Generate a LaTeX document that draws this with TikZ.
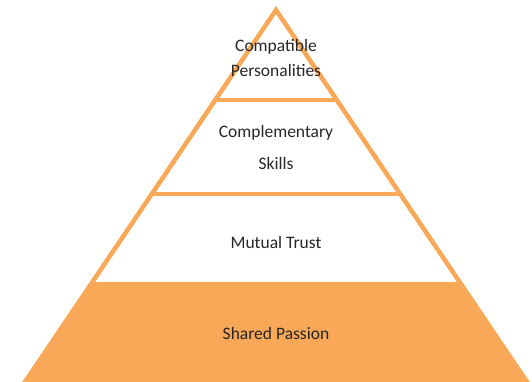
\documentclass[tikz,border=0pt]{standalone}
\usepackage{fontspec}
\setmainfont{Carlito}
\usetikzlibrary{calc}
\definecolor{pyrorange}{HTML}{F9A857}
\tikzset{
	layer/.style={line width=4.5pt,draw=pyrorange,line join=miter},
	label/.style={font=\fontsize{17.5}{21}\selectfont,text=black!85,align=center,inner sep=0pt}
}

\begin{document}
\begin{tikzpicture}[x=1pt,y=-1pt]
	\useasboundingbox (0,0) rectangle (532,381);
	\clip (0,0) rectangle (532,381);
	%CORNERS
	\coordinate (top) at (276,10);
	\coordinate (bl) at (19.5,390);
	\coordinate (br) at (532.5,390);
	
	%BOTTOM LAYER
	\fill[pyrorange] ($(top)!0.7211!(bl)$) -- ($(top)!0.7211!(br)$) -- (br) -- (bl) -- cycle;
	
	%OUTLINE AND DIVIDERS
	\draw[layer] (top) -- (br) -- (bl) -- cycle;
	\draw[layer] ($(top)!0.2368!(bl)$) -- ($(top)!0.2368!(br)$);	%top
	\draw[layer] ($(top)!0.4842!(bl)$) -- ($(top)!0.4842!(br)$);	%second
	\draw[layer] ($(top)!0.7211!(bl)$) -- ($(top)!0.7211!(br)$);	%third
	
	%LABELS
	\node[label] (compat) at (276,47) {Compatible};
	\node[label] (person) at (276,70) {Personalities};
	\node[label] (compl) at (276,133) {Complementary};
	\node[label] (skills) at (276,163) {Skills};
	\node[label] (trust) at (276,242) {Mutual Trust};
	\node[label] (passion) at (276,333) {Shared Passion};
\end{tikzpicture}
\end{document}
